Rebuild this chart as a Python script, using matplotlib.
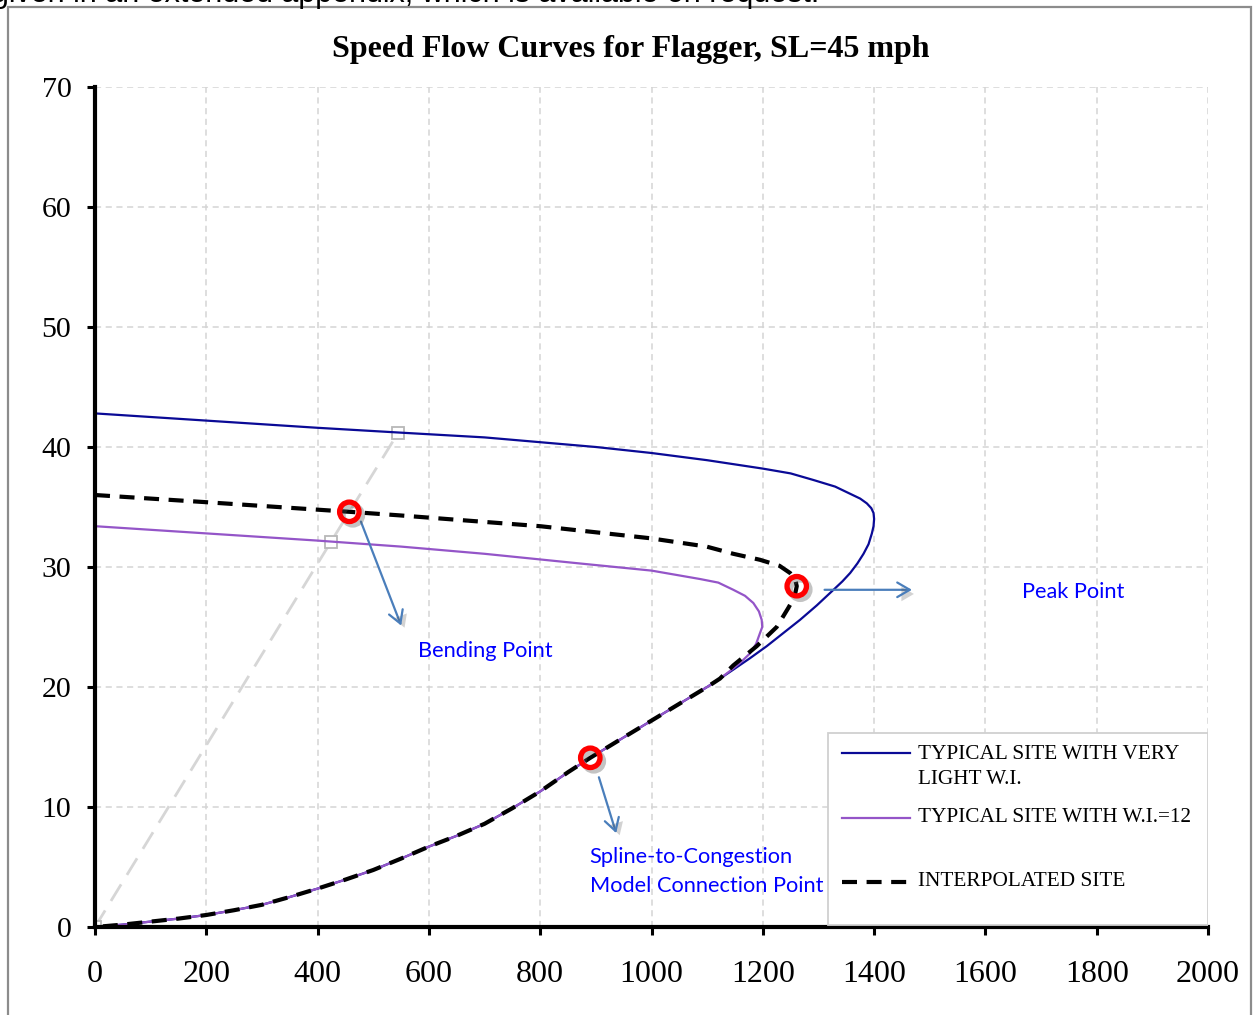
import matplotlib
matplotlib.use("Agg")
import matplotlib.pyplot as plt
import matplotlib.patheffects as pe
from matplotlib.patches import Rectangle, FancyArrowPatch
from matplotlib.lines import Line2D

# ---- data: speed (mph) vs. flow (veh/h/ln) ----
# shared congested branch, from the top of the merge down to the origin
congested_flow = [1100, 1050, 1000, 950, 890, 850, 800, 750, 700, 650, 600, 550, 500,
                  450, 400, 350, 300, 250, 200, 150, 100, 50, 0]
congested_speed = [20.0, 18.6, 17.2, 15.8, 14.1, 12.9, 11.3, 9.9, 8.6, 7.6, 6.7, 5.7, 4.75,
                   3.95, 3.2, 2.5, 1.85, 1.4, 1.0, 0.7, 0.45, 0.2, 0.0]

# uncongested part + nose of each curve
light_flow = [0, 200, 400, 548, 700, 800, 900, 1000, 1100, 1200, 1250, 1291, 1330, 1357,
              1375, 1387, 1395, 1399, 1400, 1399, 1396, 1390, 1381, 1370, 1357, 1343, 1327,
              1297, 1267, 1237, 1207, 1177, 1147, 1123]
light_speed = [42.8, 42.2, 41.6, 41.2, 40.8, 40.4, 40.0, 39.5, 38.9, 38.2, 37.8, 37.25, 36.7,
               36.1, 35.7, 35.3, 34.9, 34.5, 34.0, 33.4, 32.8, 31.9, 31.1, 30.3, 29.5, 28.8,
               28.1, 26.8, 25.6, 24.5, 23.4, 22.4, 21.45, 20.7]

wi12_flow = [0, 200, 400, 550, 700, 870, 1000, 1087, 1120, 1147, 1168, 1183, 1193, 1198,
             1199, 1195, 1188, 1177, 1159, 1140, 1123]
wi12_speed = [33.4, 32.8, 32.2, 31.7, 31.1, 30.3, 29.7, 29.0, 28.7, 28.1, 27.6, 27.0, 26.3,
              25.6, 25.0, 24.5, 23.6, 22.8, 22.0, 21.3, 20.7]

interp_flow = [0, 200, 457, 548, 800, 997, 1099, 1147, 1195, 1230, 1249, 1258, 1261,
               1257, 1246, 1225, 1189, 1147, 1123]
interp_speed = [36.0, 35.4, 34.6, 34.3, 33.4, 32.4, 31.7, 31.1, 30.6, 30.1, 29.5, 29.0, 28.4,
                27.5, 26.6, 25.0, 23.4, 21.8, 20.7]

# key points marked on the interpolated curve
key_flow = [457, 1261, 890]
key_speed = [34.6, 28.4, 14.1]

# reference ray through the bending point
ray_flow = [0, 424, 545]
ray_speed = [0, 32.1, 41.2]

x_ticks = [0, 200, 400, 600, 800, 1000, 1200, 1400, 1600, 1800, 2000]
y_ticks = [0, 10, 20, 30, 40, 50, 60, 70]

series = [
    ("TYPICAL SITE WITH VERY\nLIGHT W.I.", light_flow, light_speed,
     dict(color="#0A0A96", lw=1.6, ls="-")),
    ("TYPICAL SITE WITH W.I.=12", wi12_flow, wi12_speed,
     dict(color="#9455C8", lw=1.6, ls="-")),
    ("INTERPOLATED SITE", interp_flow, interp_speed,
     dict(color="black", lw=3.0, ls=(0, (3.6, 2.3)))),
]

serif = ["Liberation Serif", "DejaVu Serif"]
label_font = ["Lato", "Open Sans", "DejaVu Sans"]

fig = plt.figure(figsize=(12.57, 10.15), dpi=100)
ax = fig.add_axes([95 / 1257, 1 - 927 / 1015, 1113 / 1257, 840 / 1015])

# outer frame of the chart area
fig.patches.append(Rectangle((8 / 1257, -0.02), 1243 / 1257, 1.02 - 7 / 1015,
                             transform=fig.transFigure, fill=False,
                             edgecolor="#8c8c8c", lw=1.6, zorder=0))
fig.text(-0.006, 1 - 2 / 1015, "given in an extended appendix, which is available on request.",
         family=["Liberation Sans", "DejaVu Sans"], fontsize=22, va="baseline", ha="left")

fig.text(631 / 1257, 1 - 49 / 1015, "Speed Flow Curves for Flagger, SL=45 mph", family=serif,
         fontsize=23, fontweight="bold", ha="center", va="center")

ax.set_xlim(0, 2000)
ax.set_ylim(0, 70)
ax.set_xticks(x_ticks)
ax.set_yticks(y_ticks)
ax.set_xticklabels([str(v) for v in x_ticks], family=serif, fontsize=23)
ax.set_yticklabels([str(v) for v in y_ticks], family=serif, fontsize=21.5)
ax.tick_params(axis="both", direction="out", length=6, width=2.2, color="black")
ax.tick_params(axis="x", pad=18)
ax.tick_params(axis="y", pad=11)
ax.grid(True, color="#d4d4d4", ls=(0, (4, 3)), lw=1.1)
ax.set_axisbelow(True)
for side in ("top", "right"):
    ax.spines[side].set_visible(False)
for side in ("left", "bottom"):
    ax.spines[side].set_linewidth(3)
    ax.spines[side].set_color("black")
    ax.spines[side].set_zorder(6)

# reference ray
ax.plot(ray_flow, ray_speed, color="#d6d6d6", lw=2.0, ls=(0, (7, 4)), zorder=2,
        marker="s", ms=8, mfc="white", mec="#b8b8b8", mew=1.3)

# curves
for name, qf, vf, style in series:
    ax.plot(qf + congested_flow, vf + congested_speed, zorder=3, solid_capstyle="round",
            solid_joinstyle="round", **style)

# key point rings with a soft shadow
shadow = [pe.SimpleLineShadow(offset=(2.5, -2.5), shadow_color="#555555", alpha=0.35),
          pe.Normal()]
ax.plot(key_flow, key_speed, ls="none", marker="o", ms=14, mfc="none", mec="#FF0000",
        mew=3.8, zorder=5, path_effects=shadow)

# annotation arrows
arrow_color = "#4A7EBB"
arrows = [((476, 34.0), (552, 24.9)),
          ((1306, 28.1), (1473, 28.1)),
          ((904, 12.7), (938, 7.6))]
for start, end in arrows:
    arr = FancyArrowPatch(start, end, arrowstyle="->,head_length=6,head_width=3.5",
                          color=arrow_color, lw=1.6, zorder=4, mutation_scale=1.5,
                          path_effects=[pe.SimplePatchShadow(offset=(3, -3), alpha=0.25),
                                        pe.Normal()])
    ax.add_patch(arr)

ax.text(580, 23.0, "Bending Point", color="#0000FF", family=label_font, fontsize=15.7,
        va="center", ha="left")
ax.text(1666, 27.9, "Peak Point", color="#0000FF", family=label_font, fontsize=15.7,
        va="center", ha="left")
ax.text(889, 4.6, "Spline-to-Congestion\nModel Connection Point", color="#0000FF",
        family=label_font, fontsize=15.7, va="center", ha="left", linespacing=1.55)

# legend box
ax.add_patch(Rectangle((0.6586, 0.002), 1.0 - 0.6586, 0.229, transform=ax.transAxes,
                       facecolor="white", edgecolor="#d0d0d0", lw=1.3, zorder=7))
entry_line_y = [0.2071, 0.1298, 0.0536]
entry_text_y = [0.2165, 0.1298, 0.0536]
for (name, _, _, style), yl, yt in zip(series, entry_line_y, entry_text_y):
    ax.add_line(Line2D([0.6712, 0.7323], [yl, yl], transform=ax.transAxes, zorder=8,
                       **style))
    ax.text(0.7394, yt, name, transform=ax.transAxes, family=serif, fontsize=15.3,
            va="top" if "\n" in name else "center", ha="left", zorder=8,
            linespacing=1.4)

fig.savefig("out.png", dpi=100)
